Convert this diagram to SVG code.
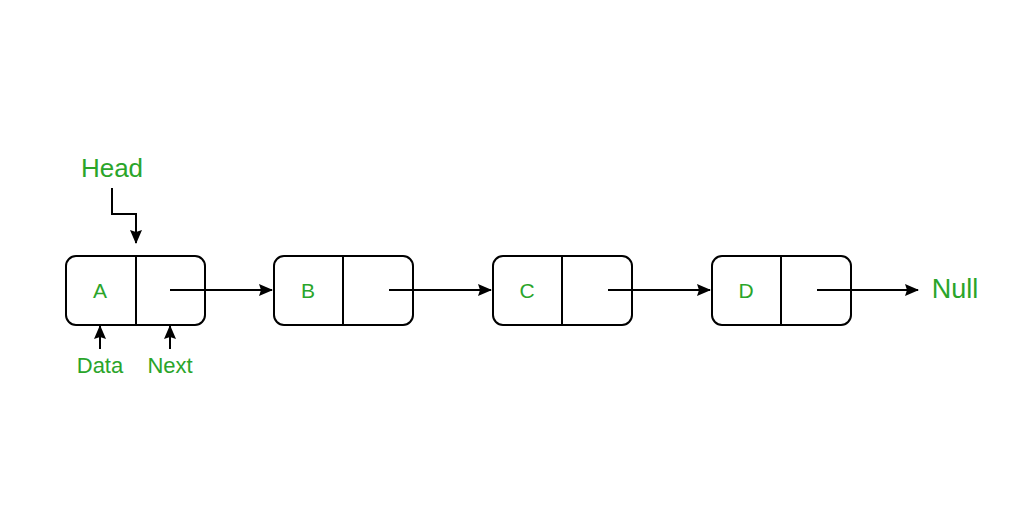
<svg xmlns="http://www.w3.org/2000/svg" width="1024" height="529" viewBox="0 0 1024 529">
<style>
.box{fill:#fff;stroke:#000;stroke-width:2}
.div{stroke:#000;stroke-width:2}
.conn{fill:none;stroke:#000;stroke-width:2}
.lbl{font-family:"Liberation Sans",Arial,sans-serif;fill:#2aa52a;text-anchor:middle}
</style>
<defs>
<marker id="ah" viewBox="0 0 14 12" refX="13" refY="6" markerWidth="14" markerHeight="12" markerUnits="userSpaceOnUse" orient="auto">
<path d="M0,0 L14,6 L0,12 L2,6 Z" fill="#000"/>
</marker>
</defs>
<rect width="1024" height="529" fill="#fff"/>
<g id="head"><text class="lbl" x="112" y="177" font-size="26">Head</text></g>
<g id="nodeA">
<rect class="box" x="66" y="256" width="139" height="69" rx="10"/>
<line class="div" x1="136" y1="256" x2="136" y2="325"/>
<text class="lbl" x="100" y="298" font-size="21">A</text>
</g>
<g id="nodeB">
<rect class="box" x="274" y="256" width="139" height="69" rx="10"/>
<line class="div" x1="343" y1="256" x2="343" y2="325"/>
<text class="lbl" x="308" y="298" font-size="21">B</text>
</g>
<g id="nodeC">
<rect class="box" x="493" y="256" width="139" height="69" rx="10"/>
<line class="div" x1="562" y1="256" x2="562" y2="325"/>
<text class="lbl" x="527" y="298" font-size="21">C</text>
</g>
<g id="nodeD">
<rect class="box" x="712" y="256" width="139" height="69" rx="10"/>
<line class="div" x1="781" y1="256" x2="781" y2="325"/>
<text class="lbl" x="746" y="298" font-size="21">D</text>
</g>
<g id="null"><text class="lbl" x="955" y="298" font-size="27">Null</text></g>
<g id="data"><text class="lbl" x="100" y="373" font-size="22">Data</text></g>
<g id="next"><text class="lbl" x="170" y="373" font-size="22">Next</text></g>
<g id="connectors">
<path class="conn" d="M112,188 V214 H136 V243" marker-end="url(#ah)"/>
<path class="conn" d="M170,290 H272" marker-end="url(#ah)"/>
<path class="conn" d="M389,290 H491" marker-end="url(#ah)"/>
<path class="conn" d="M608,290 H710" marker-end="url(#ah)"/>
<path class="conn" d="M817,290 H918" marker-end="url(#ah)"/>
<path class="conn" d="M100,349 V326" marker-end="url(#ah)"/>
<path class="conn" d="M170,349 V326" marker-end="url(#ah)"/>
</g>
</svg>
